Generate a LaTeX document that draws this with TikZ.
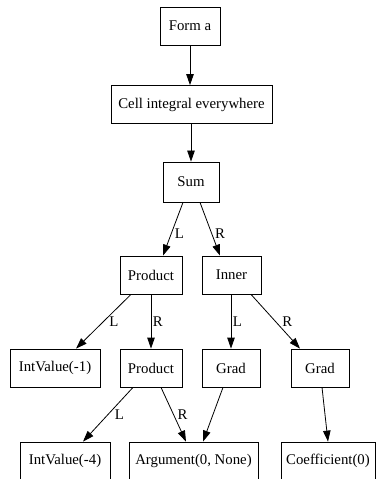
\documentclass[tikz,border=0pt]{standalone}
\usepackage{fontspec}
\setmainfont{Liberation Serif}
\usetikzlibrary{arrows.meta,calc}
\begin{document}
\begin{tikzpicture}[x=1bp,y=-1bp,
  box/.style={draw, line width=0.8bp, minimum height=38bp, inner sep=0pt, font=\fontsize{14.8bp}{17bp}\selectfont},
  edge/.style={-{Triangle[length=11bp,width=7.5bp]}, line width=0.8bp},
  lbl/.style={font=\fontsize{14.8bp}{17bp}\selectfont, inner sep=0pt, anchor=west}]
\useasboundingbox (0,0) rectangle (376,479);
\node[box, minimum width=60bp] (form) at (190,26) {Form a};
\node[box, minimum width=161bp] (cell) at (191.5,104.5) {Cell integral everywhere};
\node[box, minimum width=56bp, minimum height=40bp] (sum) at (191,182) {Sum};
\node[box, minimum width=62bp] (p1) at (151,275) {Product};
\node[box, minimum width=59bp] (inner) at (231.5,275) {Inner};
\node[box, minimum width=90bp] (iv1) at (55,368) {IntValue(-1)};
\node[box, minimum width=62bp] (p2) at (151,368) {Product};
\node[box, minimum width=58bp] (g1) at (231,368) {Grad};
\node[box, minimum width=58bp] (g2) at (320,368) {Grad};
\node[box, minimum width=90bp] (iv4) at (65,461) {IntValue(-4)};
\node[box, minimum width=129bp] (arg) at (193.5,461) {Argument(0, None)};
\node[box, minimum width=94bp] (coef) at (328,461) {Coefficient(0)};

\draw[edge] (form.south) -- (form.south |- cell.north);
\draw[edge] (cell.south -| sum.north) -- (sum.north);
\draw[edge] ($(sum.south)+(-8,0)$) -- node[lbl, pos=.58, xshift=3bp] {L} ($(p1.north)+(12,0)$);
\draw[edge] ($(sum.south)+(9,0)$) -- node[lbl, pos=.58, xshift=3bp] {R} ($(inner.north)+(-11.5,0)$);
\draw[edge] ($(p1.south)+(-20,0)$) -- node[lbl, pos=.51, xshift=6bp] {L} ($(iv1.north)+(21,0)$);
\draw[edge] (p1) -- node[lbl, pos=.5, xshift=1.5bp] {R} (p2);
\draw[edge] (g1.north |- inner.south) -- node[lbl, pos=.5, xshift=1.5bp] {L} (g1.north);
\draw[edge] ($(inner.south)+(19.5,0)$) -- node[lbl, pos=.51, xshift=6bp] {R} ($(g2.north)+(-20,0)$);
\draw[edge] ($(p2.south)+(-18,0)$) -- node[lbl, pos=.51, xshift=7bp] {L} ($(iv4.north)+(18,0)$);
\draw[edge] ($(p2.south)+(10,0)$) -- node[lbl, pos=.51, xshift=3.5bp] {R} ($(arg.north)+(-7.5,0)$);
\draw[edge] ($(g1.south)+(-8,0)$) -- ($(arg.north)+(9.5,0)$);
\draw[edge] ($(g2.south)+(2,0)$) -- (coef.north);
\end{tikzpicture}
\end{document}
